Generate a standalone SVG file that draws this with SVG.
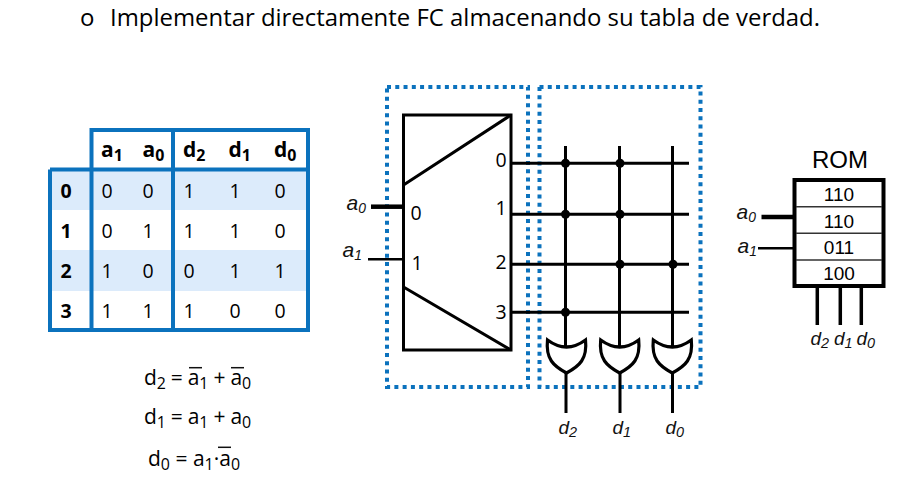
<svg xmlns="http://www.w3.org/2000/svg" width="917" height="483" viewBox="0 0 917 483">
<style>
text{font-family:"Open Sans","Noto Sans",sans-serif;fill:#000}
.t{font-size:19.500px;text-anchor:middle}
.h{font-size:21px;font-weight:700}
.b{font-weight:700}
.eq{font-size:21px}
.s{font-size:.76em}
.ar{font-family:"Liberation Sans",Arial,sans-serif}
.i{font-family:"Liberation Sans",Arial,sans-serif;font-style:italic;font-size:19px;fill:#111}
.ia{font-family:"Liberation Sans",Arial,sans-serif;font-style:italic;font-size:21px;fill:#111}
.ia .s{font-size:.66em}
.dot{fill:none;stroke:#0b72bd;stroke-width:4;stroke-dasharray:4 4.27}
.tb{fill:none;stroke:#0b72bd;stroke-width:4}
.w{stroke:#000;stroke-width:3;fill:none}
.thick{stroke:#000;stroke-width:4.5;fill:none}
.thin{stroke:#000;stroke-width:2.5;fill:none}
.bar{stroke:#111;stroke-width:1.5}
.gate{fill:#fff;stroke:#000;stroke-width:3.2;stroke-linejoin:miter}
</style>
<defs>
<path id="or" class="gate" d="M-19,-33 Q0,-19 19,-33 C21,-14 13,-7 0,0 C-13,-7 -21,-14 -19,-33 Z"/>
</defs>
<g id="title">
<text x="80" y="26" font-size="24">o</text>
<text x="110" y="25.500" font-size="23.500" textLength="710" lengthAdjust="spacingAndGlyphs">Implementar directamente FC almacenando su tabla de verdad.</text>
</g>
<g id="truth-table">
<rect x="51" y="170" width="257" height="40" fill="#dcebfb"/>
<rect x="51" y="250" width="257" height="41" fill="#dcebfb"/>
<path class="tb" d="M91.500,169.500V130H308V169.500M50,169.500H308M173,130V330M91.500,169.500V330M50,169.500V330H308V169.500"/>
<g>
<text class="h" x="101" y="157">a<tspan class="s" dy="4">1</tspan></text>
<text class="h" x="142.500" y="157">a<tspan class="s" dy="4">0</tspan></text>
<text class="h" x="183" y="157">d<tspan class="s" dy="4">2</tspan></text>
<text class="h" x="228.500" y="157">d<tspan class="s" dy="4">1</tspan></text>
<text class="h" x="274" y="157">d<tspan class="s" dy="4">0</tspan></text>
</g>
<g class="t b">
<text x="66" y="198">0</text><text x="66" y="238">1</text><text x="66" y="278">2</text><text x="66" y="318">3</text>
</g>
<g class="t">
<text x="107" y="198">0</text><text x="148" y="198">0</text><text x="189" y="198">1</text><text x="235" y="198">1</text><text x="280" y="198">0</text>
<text x="107" y="238">0</text><text x="148" y="238">1</text><text x="189" y="238">1</text><text x="235" y="238">1</text><text x="280" y="238">0</text>
<text x="107" y="278">1</text><text x="148" y="278">0</text><text x="189" y="278">0</text><text x="235" y="278">1</text><text x="280" y="278">1</text>
<text x="107" y="318">1</text><text x="148" y="318">1</text><text x="189" y="318">1</text><text x="235" y="318">0</text><text x="280" y="318">0</text>
</g>
</g>
<g id="equations">
<text class="eq" x="144" y="385" textLength="107">d<tspan class="s" dy="4">2</tspan><tspan dy="-4"> = a</tspan><tspan class="s" dy="4">1</tspan><tspan dy="-4"> + a</tspan><tspan class="s" dy="4">0</tspan></text>
<line class="bar" x1="189" y1="367.700" x2="202" y2="367.700"/>
<line class="bar" x1="231" y1="367.700" x2="244" y2="367.700"/>
<text class="eq" x="144" y="424" textLength="107">d<tspan class="s" dy="4">1</tspan><tspan dy="-4"> = a</tspan><tspan class="s" dy="4">1</tspan><tspan dy="-4"> + a</tspan><tspan class="s" dy="4">0</tspan></text>
<text class="eq" x="148" y="466" textLength="92">d<tspan class="s" dy="4">0</tspan><tspan dy="-4"> = a</tspan><tspan class="s" dy="4">1</tspan><tspan dy="-4">·a</tspan><tspan class="s" dy="4">0</tspan></text>
<line class="bar" x1="218" y1="447.300" x2="231" y2="447.300"/>
</g>
<g id="decoder-box"><rect class="dot" x="387" y="87" width="141" height="300"/></g>
<g id="or-plane-box"><rect class="dot" x="539.500" y="87" width="161" height="300"/></g>
<g id="connectors">
<path class="thick" d="M371,206.700H403"/>
<path class="thin" d="M368,259.300H403"/>
<path class="w" d="M511,163.300H689M511,214.300H689M511,264.300H689M511,312.300H689"/>
<path class="w" d="M565.500,146V346M619.500,146V346M672.500,146V346"/>
<path class="w" d="M566,373V413M620,373V413M672.500,373V413"/>
<path class="thick" d="M761.500,217H794"/>
<path class="thin" d="M758,248.300H794"/>
<path class="thick" d="M817.300,286V325M840.300,286V325M861.300,286V325" style="stroke-width:3.500"/>
<g fill="#000">
<circle cx="565.500" cy="163.300" r="4.500"/><circle cx="620" cy="163.300" r="4.500"/>
<circle cx="565.500" cy="214.300" r="4.500"/><circle cx="620" cy="214.300" r="4.500"/>
<circle cx="620" cy="264.300" r="4.500"/><circle cx="673" cy="264.300" r="4.500"/>
<circle cx="565.500" cy="312.300" r="4.500"/>
</g>
</g>
<g id="decoder">
<rect class="w" x="403.500" y="115" width="107.500" height="235"/>
<path class="w" d="M403.500,185L511,115M403.500,287L511,350"/>
<text class="t" x="416" y="220">0</text><text class="t" x="417" y="270">1</text>
<text class="t" x="501" y="167">0</text><text class="t" x="501" y="215">1</text><text class="t" x="501" y="269">2</text><text class="t" x="501" y="319">3</text>
<text class="ia" x="346.500" y="210">a<tspan class="s" dy="3">0</tspan></text>
<text class="ia" x="342.500" y="257">a<tspan class="s" dy="3">1</tspan></text>
</g>
<g id="or-d2"><use href="#or" x="566.500" y="373"/><text class="i" x="558.500" y="434">d<tspan class="s" dy="3">2</tspan></text></g>
<g id="or-d1"><use href="#or" x="619.700" y="373"/><text class="i" x="612.500" y="434">d<tspan class="s" dy="3">1</tspan></text></g>
<g id="or-d0"><use href="#or" x="672.300" y="373"/><text class="i" x="665.500" y="434">d<tspan class="s" dy="3">0</tspan></text></g>
<g id="rom">
<text class="ar" x="840" y="168" font-size="24" text-anchor="middle">ROM</text>
<rect x="794.500" y="180" width="89" height="106" fill="#fff" stroke="#000" stroke-width="4"/>
<path d="M796,206.700H882M796,233.300H882M796,260H882" stroke="#333" stroke-width="1.500" fill="none"/>
<g font-size="19" text-anchor="middle">
<text class="ar" x="839" y="201">110</text><text class="ar" x="839" y="228">110</text><text class="ar" x="839" y="254">011</text><text class="ar" x="839" y="280">100</text>
</g>
<text class="ia" x="736.500" y="219">a<tspan class="s" dy="3">0</tspan></text>
<text class="ia" x="737.500" y="253">a<tspan class="s" dy="3">1</tspan></text>
<text class="i" x="810.500" y="345">d<tspan class="s" dy="3">2</tspan></text>
<text class="i" x="834" y="345">d<tspan class="s" dy="3">1</tspan></text>
<text class="i" x="856.500" y="345">d<tspan class="s" dy="3">0</tspan></text>
</g>
</svg>
